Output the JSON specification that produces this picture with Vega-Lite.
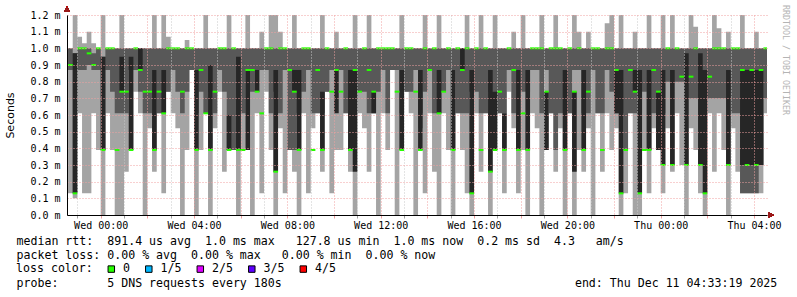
{
  "$schema": "https://vega.github.io/schema/vega-lite/v6.json",
  "width": 700,
  "height": 200,
  "autosize": "none",
  "padding": {"left": 67, "top": 15, "right": 30, "bottom": 82},
  "background": "#ffffff",
  "title": {
    "text": "RRDTOOL / TOBI OETIKER",
    "orient": "right",
    "anchor": "start",
    "frame": "group",
    "offset": 1,
    "dx": -10,
    "font": "DejaVu Sans Mono",
    "fontSize": 8.3,
    "fontWeight": "normal",
    "color": "#b4b4b4"
  },
  "resolve": {"axis": {"x": "independent", "y": "independent"}},
  "data": {
    "values": [
      {"t": -1.4, "mn": 0.13, "q1": 0.87, "md": 0.9, "q3": 1.0, "mx": 1.0, "dk": 0.9},
      {"t": -1.2, "mn": 0.1, "q1": 0.13, "md": 0.13, "q3": 0.97, "mx": 1.25, "dk": 0.97},
      {"t": -1.0, "mn": 0.61, "q1": 0.87, "md": 1.0, "q3": 1.0, "mx": 1.07, "dk": 1.0},
      {"t": -0.8, "mn": 0.13, "q1": 0.87, "md": 1.0, "q3": 1.0, "mx": 1.03, "dk": 1.0},
      {"t": -0.6, "mn": 0.13, "q1": 0.9, "md": 0.97, "q3": 1.0, "mx": 1.1, "dk": 0.97},
      {"t": -0.4, "mn": 0.61, "q1": 0.87, "md": 0.9, "q3": 0.97, "mx": 1.03, "dk": 0.9},
      {"t": -0.2, "mn": 0.39, "q1": 0.87, "md": 1.0, "q3": 1.0, "mx": 1.0, "dk": 1.0},
      {"t": 0.0, "mn": 0.0, "q1": 0.39, "md": 0.39, "q3": 0.95, "mx": 1.2, "dk": 0.95},
      {"t": 0.2, "mn": 0.61, "q1": 0.87, "md": 1.0, "q3": 1.0, "mx": 1.0, "dk": 1.0},
      {"t": 0.4, "mn": 0.39, "q1": 0.74, "md": 1.0, "q3": 1.0, "mx": 1.0, "dk": 1.0},
      {"t": 0.6, "mn": 0.0, "q1": 0.61, "md": 0.39, "q3": 1.0, "mx": 1.0, "dk": 0.39},
      {"t": 0.8, "mn": 0.0, "q1": 0.61, "md": 0.74, "q3": 1.0, "mx": 1.2, "dk": 0.95},
      {"t": 1.0, "mn": 0.26, "q1": 0.61, "md": 0.74, "q3": 1.0, "mx": 1.0, "dk": 0.74},
      {"t": 1.2, "mn": 0.39, "q1": 0.87, "md": 0.39, "q3": 1.0, "mx": 1.0, "dk": 0.95},
      {"t": 1.4, "mn": 0.74, "q1": 0.87, "md": 1.0, "q3": 1.0, "mx": 1.0, "dk": 1.0},
      {"t": 1.6, "mn": 0.61, "q1": 0.74, "md": 0.87, "q3": 1.0, "mx": 1.0, "dk": 1.0},
      {"t": 1.8, "mn": 0.0, "q1": 0.61, "md": 0.74, "q3": 1.0, "mx": 1.0, "dk": 0.74},
      {"t": 2.0, "mn": 0.52, "q1": 0.61, "md": 0.74, "q3": 1.0, "mx": 1.0, "dk": 0.74},
      {"t": 2.2, "mn": 0.26, "q1": 0.87, "md": 0.39, "q3": 1.0, "mx": 1.2, "dk": 0.87},
      {"t": 2.4, "mn": 0.61, "q1": 0.61, "md": 0.74, "q3": 1.0, "mx": 1.0, "dk": 0.74},
      {"t": 2.6, "mn": 0.13, "q1": 0.61, "md": 0.61, "q3": 1.0, "mx": 1.2, "dk": 0.87},
      {"t": 2.8, "mn": 0.74, "q1": 0.74, "md": 1.0, "q3": 1.0, "mx": 1.07, "dk": 1.0},
      {"t": 3.0, "mn": 0.61, "q1": 0.87, "md": 1.0, "q3": 1.0, "mx": 1.0, "dk": 1.0},
      {"t": 3.2, "mn": 0.52, "q1": 0.74, "md": 1.0, "q3": 1.0, "mx": 1.0, "dk": 1.0},
      {"t": 3.4, "mn": 0.0, "q1": 0.61, "md": 0.74, "q3": 1.0, "mx": 1.0, "dk": 0.74},
      {"t": 3.6, "mn": 0.39, "q1": 0.74, "md": 1.0, "q3": 1.0, "mx": 1.05, "dk": 1.0},
      {"t": 3.8, "mn": 0.87, "q1": 0.87, "md": 1.0, "q3": 1.0, "mx": 1.0, "dk": 1.0},
      {"t": 4.0, "mn": 0.0, "q1": 0.61, "md": 0.39, "q3": 1.0, "mx": 1.0, "dk": 0.87},
      {"t": 4.2, "mn": 0.39, "q1": 0.74, "md": 0.87, "q3": 1.0, "mx": 1.0, "dk": 0.87},
      {"t": 4.4, "mn": 0.61, "q1": 0.61, "md": 0.61, "q3": 1.0, "mx": 1.2, "dk": 0.61},
      {"t": 4.6, "mn": 0.0, "q1": 0.74, "md": 0.39, "q3": 1.0, "mx": 1.0, "dk": 0.9},
      {"t": 4.8, "mn": 0.52, "q1": 0.61, "md": 0.74, "q3": 1.0, "mx": 1.0, "dk": 0.74},
      {"t": 5.0, "mn": 0.74, "q1": 0.87, "md": 1.0, "q3": 1.0, "mx": 1.0, "dk": 1.0},
      {"t": 5.2, "mn": 0.26, "q1": 0.74, "md": 1.0, "q3": 1.0, "mx": 1.0, "dk": 1.0},
      {"t": 5.4, "mn": 0.39, "q1": 0.39, "md": 0.39, "q3": 1.0, "mx": 1.2, "dk": 0.6},
      {"t": 5.6, "mn": 0.39, "q1": 0.39, "md": 1.0, "q3": 1.0, "mx": 1.0, "dk": 1.0},
      {"t": 5.8, "mn": 0.0, "q1": 0.39, "md": 0.39, "q3": 1.0, "mx": 1.0, "dk": 0.95},
      {"t": 6.0, "mn": 0.39, "q1": 0.61, "md": 0.39, "q3": 1.0, "mx": 1.0, "dk": 0.39},
      {"t": 6.2, "mn": 0.61, "q1": 0.87, "md": 0.87, "q3": 1.0, "mx": 1.2, "dk": 0.39},
      {"t": 6.4, "mn": 0.0, "q1": 0.74, "md": 0.87, "q3": 1.0, "mx": 1.0, "dk": 0.87},
      {"t": 6.6, "mn": 0.61, "q1": 0.87, "md": 0.74, "q3": 1.0, "mx": 1.0, "dk": 0.87},
      {"t": 6.8, "mn": 0.13, "q1": 0.87, "md": 0.61, "q3": 1.0, "mx": 1.1, "dk": 0.61},
      {"t": 7.0, "mn": 0.74, "q1": 0.87, "md": 1.0, "q3": 1.0, "mx": 1.0, "dk": 1.0},
      {"t": 7.2, "mn": 0.39, "q1": 0.61, "md": 1.0, "q3": 1.0, "mx": 1.2, "dk": 1.0},
      {"t": 7.4, "mn": 0.0, "q1": 0.74, "md": 0.26, "q3": 1.0, "mx": 1.2, "dk": 0.87},
      {"t": 7.6, "mn": 0.52, "q1": 0.61, "md": 1.0, "q3": 1.0, "mx": 1.1, "dk": 1.0},
      {"t": 7.8, "mn": 0.13, "q1": 0.87, "md": 1.0, "q3": 1.0, "mx": 1.0, "dk": 1.0},
      {"t": 8.0, "mn": 0.39, "q1": 0.39, "md": 0.87, "q3": 1.0, "mx": 1.0, "dk": 0.87},
      {"t": 8.2, "mn": 0.26, "q1": 0.39, "md": 0.74, "q3": 1.0, "mx": 1.2, "dk": 0.87},
      {"t": 8.4, "mn": 0.0, "q1": 0.61, "md": 0.39, "q3": 1.0, "mx": 1.0, "dk": 0.87},
      {"t": 8.6, "mn": 0.61, "q1": 0.74, "md": 1.0, "q3": 1.0, "mx": 1.0, "dk": 1.0},
      {"t": 8.8, "mn": 0.13, "q1": 0.87, "md": 1.0, "q3": 1.0, "mx": 1.0, "dk": 1.0},
      {"t": 9.0, "mn": 0.52, "q1": 0.61, "md": 0.39, "q3": 1.0, "mx": 1.0, "dk": 0.39},
      {"t": 9.2, "mn": 0.61, "q1": 0.61, "md": 0.87, "q3": 1.0, "mx": 1.0, "dk": 0.87},
      {"t": 9.4, "mn": 0.26, "q1": 0.61, "md": 0.39, "q3": 1.0, "mx": 1.2, "dk": 0.74},
      {"t": 9.6, "mn": 0.74, "q1": 0.74, "md": 1.0, "q3": 1.0, "mx": 1.0, "dk": 1.0},
      {"t": 9.8, "mn": 0.13, "q1": 0.87, "md": 0.74, "q3": 1.0, "mx": 1.0, "dk": 0.74},
      {"t": 10.0, "mn": 0.39, "q1": 0.87, "md": 0.87, "q3": 1.0, "mx": 1.1, "dk": 0.61},
      {"t": 10.2, "mn": 0.39, "q1": 0.87, "md": 0.74, "q3": 1.0, "mx": 1.0, "dk": 0.74},
      {"t": 10.4, "mn": 0.61, "q1": 0.61, "md": 1.0, "q3": 1.0, "mx": 1.0, "dk": 1.0},
      {"t": 10.6, "mn": 0.26, "q1": 0.61, "md": 0.39, "q3": 1.0, "mx": 1.0, "dk": 0.87},
      {"t": 10.8, "mn": 0.0, "q1": 0.74, "md": 0.87, "q3": 1.0, "mx": 1.2, "dk": 0.26},
      {"t": 11.0, "mn": 0.61, "q1": 0.74, "md": 0.74, "q3": 1.0, "mx": 1.0, "dk": 0.74},
      {"t": 11.2, "mn": 0.52, "q1": 0.74, "md": 1.0, "q3": 1.0, "mx": 1.0, "dk": 1.0},
      {"t": 11.4, "mn": 0.26, "q1": 0.61, "md": 0.87, "q3": 1.0, "mx": 1.2, "dk": 0.87},
      {"t": 11.6, "mn": 0.61, "q1": 0.61, "md": 0.74, "q3": 1.0, "mx": 1.0, "dk": 0.61},
      {"t": 11.8, "mn": 0.0, "q1": 0.74, "md": 1.0, "q3": 1.0, "mx": 1.0, "dk": 1.0},
      {"t": 12.0, "mn": 0.61, "q1": 0.87, "md": 1.0, "q3": 1.0, "mx": 1.0, "dk": 1.0},
      {"t": 12.2, "mn": 0.39, "q1": 0.61, "md": 1.0, "q3": 1.0, "mx": 1.0, "dk": 1.0},
      {"t": 12.4, "mn": 0.87, "q1": 0.87, "md": 1.0, "q3": 1.0, "mx": 1.0, "dk": 1.0},
      {"t": 12.6, "mn": 0.0, "q1": 0.87, "md": 0.74, "q3": 1.0, "mx": 1.0, "dk": 0.74},
      {"t": 12.8, "mn": 0.39, "q1": 0.61, "md": 0.39, "q3": 1.0, "mx": 1.2, "dk": 0.87},
      {"t": 13.0, "mn": 0.74, "q1": 0.74, "md": 1.0, "q3": 1.0, "mx": 1.0, "dk": 1.0},
      {"t": 13.2, "mn": 0.61, "q1": 0.74, "md": 1.0, "q3": 1.0, "mx": 1.0, "dk": 1.0},
      {"t": 13.4, "mn": 0.0, "q1": 0.87, "md": 0.74, "q3": 1.0, "mx": 1.0, "dk": 0.74},
      {"t": 13.6, "mn": 0.52, "q1": 0.61, "md": 0.39, "q3": 1.0, "mx": 1.0, "dk": 0.87},
      {"t": 13.8, "mn": 0.13, "q1": 0.74, "md": 1.0, "q3": 1.0, "mx": 1.2, "dk": 1.0},
      {"t": 14.0, "mn": 0.61, "q1": 0.87, "md": 0.87, "q3": 1.0, "mx": 1.0, "dk": 0.87},
      {"t": 14.2, "mn": 0.26, "q1": 0.61, "md": 1.0, "q3": 1.0, "mx": 1.0, "dk": 1.0},
      {"t": 14.4, "mn": 0.0, "q1": 0.61, "md": 0.61, "q3": 1.0, "mx": 1.2, "dk": 0.87},
      {"t": 14.6, "mn": 0.61, "q1": 0.74, "md": 0.74, "q3": 1.0, "mx": 1.0, "dk": 0.74},
      {"t": 14.8, "mn": 0.39, "q1": 0.87, "md": 1.0, "q3": 1.0, "mx": 1.0, "dk": 1.0},
      {"t": 15.0, "mn": 0.0, "q1": 0.87, "md": 0.39, "q3": 1.0, "mx": 1.0, "dk": 0.87},
      {"t": 15.2, "mn": 0.61, "q1": 0.61, "md": 1.0, "q3": 1.0, "mx": 1.0, "dk": 1.0},
      {"t": 15.4, "mn": 0.39, "q1": 0.61, "md": 0.87, "q3": 1.0, "mx": 1.0, "dk": 1.0},
      {"t": 15.6, "mn": 0.13, "q1": 0.61, "md": 1.0, "q3": 1.0, "mx": 1.2, "dk": 1.0},
      {"t": 15.8, "mn": 0.0, "q1": 0.74, "md": 0.13, "q3": 1.0, "mx": 1.0, "dk": 0.87},
      {"t": 16.0, "mn": 0.61, "q1": 0.74, "md": 1.0, "q3": 1.0, "mx": 1.0, "dk": 1.0},
      {"t": 16.2, "mn": 0.26, "q1": 0.61, "md": 0.39, "q3": 1.0, "mx": 1.2, "dk": 0.39},
      {"t": 16.4, "mn": 0.61, "q1": 0.61, "md": 1.0, "q3": 1.0, "mx": 1.0, "dk": 1.0},
      {"t": 16.6, "mn": 0.0, "q1": 0.74, "md": 0.26, "q3": 1.0, "mx": 1.0, "dk": 0.87},
      {"t": 16.8, "mn": 0.39, "q1": 0.61, "md": 0.39, "q3": 1.0, "mx": 1.2, "dk": 0.74},
      {"t": 17.0, "mn": 0.61, "q1": 0.61, "md": 0.74, "q3": 1.0, "mx": 1.0, "dk": 0.74},
      {"t": 17.2, "mn": 0.13, "q1": 0.61, "md": 0.39, "q3": 1.0, "mx": 1.0, "dk": 0.61},
      {"t": 17.4, "mn": 0.74, "q1": 0.87, "md": 1.0, "q3": 1.0, "mx": 1.0, "dk": 1.0},
      {"t": 17.6, "mn": 0.52, "q1": 0.61, "md": 0.87, "q3": 1.0, "mx": 1.1, "dk": 0.87},
      {"t": 17.8, "mn": 0.13, "q1": 0.87, "md": 0.39, "q3": 1.0, "mx": 1.0, "dk": 0.87},
      {"t": 18.0, "mn": 0.39, "q1": 0.74, "md": 0.61, "q3": 1.0, "mx": 1.2, "dk": 0.61},
      {"t": 18.2, "mn": 0.0, "q1": 0.74, "md": 0.39, "q3": 1.0, "mx": 1.0, "dk": 0.87},
      {"t": 18.4, "mn": 0.61, "q1": 0.87, "md": 1.0, "q3": 1.0, "mx": 1.0, "dk": 1.0},
      {"t": 18.6, "mn": 0.52, "q1": 0.87, "md": 1.0, "q3": 1.0, "mx": 1.0, "dk": 1.0},
      {"t": 18.8, "mn": 0.0, "q1": 0.61, "md": 1.0, "q3": 1.0, "mx": 1.2, "dk": 1.0},
      {"t": 19.0, "mn": 0.39, "q1": 0.87, "md": 0.74, "q3": 1.0, "mx": 1.0, "dk": 0.39},
      {"t": 19.2, "mn": 0.61, "q1": 0.61, "md": 1.0, "q3": 1.0, "mx": 1.0, "dk": 1.0},
      {"t": 19.4, "mn": 0.26, "q1": 0.39, "md": 1.0, "q3": 1.0, "mx": 1.2, "dk": 1.0},
      {"t": 19.6, "mn": 0.52, "q1": 0.61, "md": 1.0, "q3": 1.0, "mx": 1.0, "dk": 1.0},
      {"t": 19.8, "mn": 0.0, "q1": 0.61, "md": 0.39, "q3": 1.0, "mx": 1.0, "dk": 0.87},
      {"t": 20.0, "mn": 0.61, "q1": 0.61, "md": 1.0, "q3": 1.0, "mx": 1.0, "dk": 1.0},
      {"t": 20.2, "mn": 0.0, "q1": 0.87, "md": 0.74, "q3": 1.0, "mx": 1.2, "dk": 0.26},
      {"t": 20.4, "mn": 0.39, "q1": 0.87, "md": 1.0, "q3": 1.0, "mx": 1.1, "dk": 1.0},
      {"t": 20.6, "mn": 0.26, "q1": 0.61, "md": 0.39, "q3": 1.0, "mx": 1.0, "dk": 0.87},
      {"t": 20.8, "mn": 0.52, "q1": 0.61, "md": 0.74, "q3": 1.0, "mx": 1.1, "dk": 0.74},
      {"t": 21.0, "mn": 0.0, "q1": 0.87, "md": 1.0, "q3": 1.0, "mx": 1.0, "dk": 1.0},
      {"t": 21.2, "mn": 0.61, "q1": 0.61, "md": 1.0, "q3": 1.0, "mx": 1.0, "dk": 1.0},
      {"t": 21.4, "mn": 0.26, "q1": 0.61, "md": 0.39, "q3": 1.0, "mx": 1.0, "dk": 0.39},
      {"t": 21.6, "mn": 0.61, "q1": 0.87, "md": 1.0, "q3": 1.0, "mx": 1.15, "dk": 1.0},
      {"t": 21.8, "mn": 0.39, "q1": 0.74, "md": 1.0, "q3": 1.0, "mx": 1.2, "dk": 1.0},
      {"t": 22.0, "mn": 0.52, "q1": 0.61, "md": 0.87, "q3": 1.0, "mx": 1.0, "dk": 0.61},
      {"t": 22.2, "mn": 0.0, "q1": 0.61, "md": 0.13, "q3": 1.0, "mx": 1.2, "dk": 0.87},
      {"t": 22.4, "mn": 0.13, "q1": 0.39, "md": 0.39, "q3": 1.0, "mx": 1.0, "dk": 0.39},
      {"t": 22.6, "mn": 0.61, "q1": 0.61, "md": 0.87, "q3": 1.0, "mx": 1.0, "dk": 0.87},
      {"t": 22.8, "mn": 0.0, "q1": 0.61, "md": 0.74, "q3": 1.0, "mx": 1.1, "dk": 0.87},
      {"t": 23.0, "mn": 0.0, "q1": 0.61, "md": 0.13, "q3": 1.0, "mx": 1.0, "dk": 0.87},
      {"t": 23.2, "mn": 0.39, "q1": 0.74, "md": 0.39, "q3": 1.0, "mx": 1.0, "dk": 0.39},
      {"t": 23.4, "mn": 0.13, "q1": 0.39, "md": 0.39, "q3": 1.0, "mx": 1.2, "dk": 0.87},
      {"t": 23.6, "mn": 0.52, "q1": 0.61, "md": 0.87, "q3": 1.0, "mx": 1.0, "dk": 0.87},
      {"t": 23.8, "mn": 0.39, "q1": 0.39, "md": 0.74, "q3": 1.0, "mx": 1.0, "dk": 0.39},
      {"t": 24.0, "mn": 0.13, "q1": 0.61, "md": 0.3, "q3": 1.0, "mx": 1.2, "dk": 0.87},
      {"t": 24.2, "mn": 0.52, "q1": 0.8, "md": 1.0, "q3": 1.0, "mx": 1.0, "dk": 1.0},
      {"t": 24.4, "mn": 0.26, "q1": 0.8, "md": 0.3, "q3": 1.0, "mx": 1.2, "dk": 0.87},
      {"t": 24.6, "mn": 0.61, "q1": 0.8, "md": 1.0, "q3": 1.0, "mx": 1.0, "dk": 1.0},
      {"t": 24.8, "mn": 0.3, "q1": 0.8, "md": 0.83, "q3": 1.0, "mx": 1.0, "dk": 0.83},
      {"t": 25.0, "mn": 0.0, "q1": 0.7, "md": 0.3, "q3": 1.0, "mx": 1.0, "dk": 0.97},
      {"t": 25.2, "mn": 0.52, "q1": 0.7, "md": 0.83, "q3": 1.0, "mx": 1.2, "dk": 0.83},
      {"t": 25.4, "mn": 0.39, "q1": 0.7, "md": 1.0, "q3": 1.0, "mx": 1.13, "dk": 1.0},
      {"t": 25.6, "mn": 0.13, "q1": 0.7, "md": 0.3, "q3": 1.0, "mx": 1.0, "dk": 0.97},
      {"t": 25.8, "mn": 0.0, "q1": 0.7, "md": 0.13, "q3": 1.0, "mx": 1.0, "dk": 0.87},
      {"t": 26.0, "mn": 0.61, "q1": 0.7, "md": 0.83, "q3": 1.0, "mx": 1.0, "dk": 0.83},
      {"t": 26.2, "mn": 0.26, "q1": 0.7, "md": 1.0, "q3": 1.0, "mx": 1.2, "dk": 1.0},
      {"t": 26.4, "mn": 0.61, "q1": 0.7, "md": 1.0, "q3": 1.0, "mx": 1.12, "dk": 1.0},
      {"t": 26.6, "mn": 0.39, "q1": 0.7, "md": 1.0, "q3": 1.0, "mx": 1.0, "dk": 1.0},
      {"t": 26.8, "mn": 0.0, "q1": 0.7, "md": 0.3, "q3": 1.0, "mx": 1.1, "dk": 0.87},
      {"t": 27.0, "mn": 0.52, "q1": 0.61, "md": 1.0, "q3": 1.0, "mx": 1.0, "dk": 1.0},
      {"t": 27.2, "mn": 0.26, "q1": 0.61, "md": 1.0, "q3": 1.0, "mx": 1.0, "dk": 1.0},
      {"t": 27.4, "mn": 0.13, "q1": 0.13, "md": 0.87, "q3": 1.0, "mx": 1.2, "dk": 0.3},
      {"t": 27.6, "mn": 0.13, "q1": 0.13, "md": 0.3, "q3": 1.0, "mx": 1.0, "dk": 0.87},
      {"t": 27.8, "mn": 0.13, "q1": 0.13, "md": 0.87, "q3": 1.0, "mx": 1.0, "dk": 0.3},
      {"t": 28.0, "mn": 0.13, "q1": 0.13, "md": 0.3, "q3": 1.0, "mx": 1.1, "dk": 0.87},
      {"t": 28.2, "mn": 0.13, "q1": 0.3, "md": 0.87, "q3": 1.0, "mx": 1.0, "dk": 0.3},
      {"t": 28.4, "mn": 0.61, "q1": 0.7, "md": 1.0, "q3": 1.0, "mx": 1.0, "dk": 1.0},
      {"t": 28.6, "mn": 0.61, "q1": 0.7, "md": 1.0, "q3": 1.0, "mx": 1.0, "dk": 1.0}
    ]
  },
  "layer": [
    {
      "mark": {"type": "area", "interpolate": "step-after", "color": "#a4a4a4", "clip": true},
      "encoding": {
        "x": {
          "field": "t", "type": "quantitative",
          "scale": {"domain": [-1.445, 28.555], "nice": false, "zero": false},
          "axis": {
            "values": [-1, 0, 1, 2, 3, 4, 5, 6, 7, 8, 9, 10, 11, 12, 13, 14, 15, 16, 17, 18, 19, 20, 21, 22, 23, 24, 25, 26, 27, 28],
            "labelExpr": "datum.value % 4 === 0 ? ((datum.value < 24 ? 'Wed ' : 'Thu ') + ((datum.value % 24) < 10 ? '0' : '') + (datum.value % 24) + ':00') : ''",
            "labelFont": "DejaVu Sans Mono", "labelFontSize": 10, "labelColor": "#000000",
            "labelPadding": 2, "labelFlush": false, "labelOverlap": false, "labelBound": false,
            "grid": true,
            "gridColor": {"condition": {"test": "datum.value % 2 === 0", "value": "#f0a0a0"}, "value": "#c8c8c8"},
            "gridDash": [1, 2], "gridWidth": 1,
            "ticks": true, "tickSize": 3,
            "tickColor": {"condition": {"test": "datum.value % 2 === 0", "value": "#f0a0a0"}, "value": "#a0a0a0"},
            "domainColor": "#000000", "domainWidth": 1, "zindex": 1,
            "title": [
              "median\u00a0rtt:\u00a0\u00a0891.4\u00a0us\u00a0avg\u00a0\u00a01.0\u00a0ms\u00a0max\u00a0\u00a0\u00a0127.8\u00a0us\u00a0min\u00a0\u00a01.0\u00a0ms\u00a0now\u00a0\u00a00.2\u00a0ms\u00a0sd\u00a0\u00a04.3\u00a0\u00a0\u00a0am/s",
              "packet\u00a0loss:\u00a00.00\u00a0%\u00a0avg\u00a0\u00a00.00\u00a0%\u00a0max\u00a0\u00a0\u00a00.00\u00a0%\u00a0min\u00a0\u00a00.00\u00a0%\u00a0now",
              "\u200b",
              "probe:\u00a0\u00a0\u00a0\u00a0\u00a0\u00a0\u00a05\u00a0DNS\u00a0requests\u00a0every\u00a0180s\u00a0\u00a0\u00a0\u00a0\u00a0\u00a0\u00a0\u00a0\u00a0\u00a0\u00a0\u00a0\u00a0\u00a0\u00a0\u00a0\u00a0\u00a0\u00a0\u00a0\u00a0\u00a0\u00a0\u00a0\u00a0\u00a0\u00a0\u00a0\u00a0\u00a0\u00a0\u00a0\u00a0\u00a0\u00a0\u00a0\u00a0\u00a0\u00a0\u00a0\u00a0\u00a0end:\u00a0Thu\u00a0Dec\u00a011\u00a004:33:19\u00a02025"
            ],
            "titleX": -51, "titleY": 20, "titleAngle": 0,
            "titleAlign": "left", "titleBaseline": "top",
            "titleFont": "DejaVu Sans Mono", "titleFontSize": 11.6, "titleFontWeight": "normal",
            "titleColor": "#000000", "titleLineHeight": 14
          }
        },
        "y": {
          "field": "mn", "type": "quantitative",
          "scale": {"domain": [0, 1.2], "nice": false, "zero": true},
          "axis": {
            "values": [0, 0.1, 0.2, 0.3, 0.4, 0.5, 0.6, 0.7, 0.8, 0.9, 1.0, 1.1, 1.2],
            "labelExpr": "format(datum.value, '.1f') + ' m'",
            "labelFont": "DejaVu Sans Mono", "labelFontSize": 10, "labelColor": "#000000",
            "labelPadding": 7, "labelOverlap": false, "labelBound": false, "ticks": false,
            "grid": true, "gridColor": "#f0a0a0", "gridDash": [1, 2], "gridWidth": 1,
            "domainColor": "#000000", "domainWidth": 1, "zindex": 1,
            "title": "Seconds",
            "titleFont": "DejaVu Sans", "titleFontSize": 11, "titleFontWeight": "normal", "titleColor": "#000000",
            "titleX": -57, "titleY": 100, "titleAngle": -90, "titleAlign": "center", "titleBaseline": "middle"
          }
        },
        "y2": {"field": "mx"}
      }
    },
    {
      "mark": {"type": "area", "interpolate": "step-after", "color": "#585858", "clip": true},
      "encoding": {
        "x": {"field": "t", "type": "quantitative", "axis": null},
        "y": {"field": "q1", "type": "quantitative", "axis": null},
        "y2": {"field": "q3"}
      }
    },
    {
      "mark": {"type": "area", "interpolate": "step-after", "color": "#262626", "clip": true},
      "encoding": {
        "x": {"field": "t", "type": "quantitative", "axis": null},
        "y": {"field": "md", "type": "quantitative", "axis": null},
        "y2": {"field": "dk"}
      }
    },
    {
      "mark": {"type": "tick", "orient": "horizontal", "size": 4.67, "thickness": 2, "xOffset": 2.33, "clip": true, "opacity": 1},
      "encoding": {
        "x": {"field": "t", "type": "quantitative", "axis": null},
        "y": {"field": "md", "type": "quantitative", "axis": null},
        "color": {
          "datum": "0", "type": "nominal",
          "scale": {"domain": ["0", "1/5", "2/5", "3/5", "4/5"], "range": ["#26ff00", "#00b8ff", "#dd00ff", "#5e00ff", "#ff0000"]},
          "legend": {
            "orient": "none", "legendX": -51, "legendY": 248, "direction": "horizontal",
            "title": "loss color:", "titleOrient": "left", "titleFont": "DejaVu Sans Mono", "titleFontSize": 11.6,
            "titleFontWeight": "normal", "titleColor": "#000000", "titlePadding": 12.5,
            "labelFont": "DejaVu Sans Mono", "labelFontSize": 11.6, "labelColor": "#000000", "labelOffset": 6,
            "symbolType": "square", "symbolSize": 42, "symbolStrokeColor": "#000000", "symbolStrokeWidth": 1, "symbolOpacity": 1,
            "columnPadding": 12.5, "padding": 0
          }
        }
      }
    },
    {
      "mark": {"type": "point", "shape": "triangle-up", "filled": true, "color": "#9a1a1a", "size": 30, "clip": false, "opacity": 1},
      "encoding": {
        "x": {"datum": -1.445, "type": "quantitative", "axis": null},
        "y": {"datum": 1.235, "type": "quantitative", "axis": null}
      }
    },
    {
      "mark": {"type": "point", "shape": "triangle-right", "filled": true, "color": "#9a1a1a", "size": 30, "clip": false, "opacity": 1},
      "encoding": {
        "x": {"datum": 28.72, "type": "quantitative", "axis": null},
        "y": {"datum": 0, "type": "quantitative", "axis": null}
      }
    }
  ],
  "config": {
    "view": {"stroke": null},
    "font": "DejaVu Sans Mono"
  }
}
